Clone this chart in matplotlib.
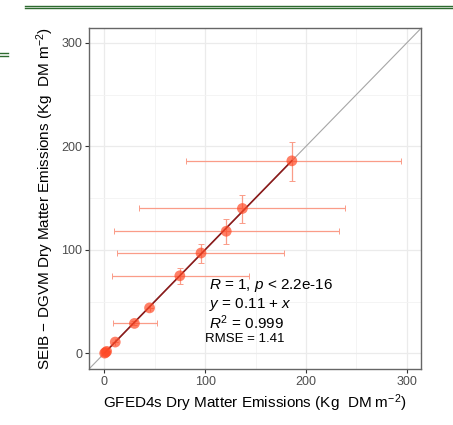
import numpy as np
import matplotlib
matplotlib.use('Agg')
import matplotlib.pyplot as plt
from matplotlib.lines import Line2D

plt.rcParams['font.family'] = ['Liberation Sans', 'DejaVu Sans']
plt.rcParams['mathtext.fontset'] = 'custom'
plt.rcParams['mathtext.rm'] = 'Liberation Sans'
plt.rcParams['mathtext.it'] = 'Liberation Sans:italic'

# GFED4s (x) vs SEIB-DGVM (y) dry matter emissions
gfed = np.array([0.5, 1.5, 2.5, 11, 30, 45, 75, 96, 121, 137, 186])
seib = np.array([0.3, 1.0, 2.0, 11, 29, 44, 75, 97, 118, 140, 186])
x_lo = np.array([0.5, 1.5, 2.5, 11, 9, 45, 8, 13, 10, 35, 81])
x_hi = np.array([0.5, 1.5, 2.5, 11, 52, 45, 144, 178, 233, 239, 294])
y_lo = np.array([0.3, 1.0, 2.0, 11, 27, 44, 67.5, 87, 106, 125.5, 166.5])
y_hi = np.array([0.3, 1.0, 2.0, 11, 31, 44, 83, 106, 130, 153.5, 204])

fit_intercept = 0.11
fit_slope = 1.0
stats_lines = [r'$\it{R}$ = 1, $\it{p}$ < 2.2e-16',
               r'$\it{y}$ = 0.11 + $\it{x}$',
               r'$\it{R}^2$ = 0.999']
rmse_label = 'RMSE = 1.41'

fig = plt.figure(figsize=(4.53, 4.25), dpi=100)
ax = fig.add_axes([0.1965, 0.1318, 0.9294 - 0.1965, 0.9334 - 0.1318])

# decorative document rules
for yy in (1 - 6 / 425, 1 - 8 / 425):
    fig.add_artist(Line2D([25 / 453, 1], [yy, yy], color='#2E6B30', lw=1.0))
for yy in (1 - 53 / 425, 1 - 56 / 425):
    fig.add_artist(Line2D([0, 8 / 453], [yy, yy], color='#2E6B30', lw=1.0))

lims = (-15, 314)
ax.set_xlim(lims)
ax.set_ylim(lims)
ax.set_facecolor('white')

ticks = [0, 100, 200, 300]
ax.set_xticks(ticks)
ax.set_yticks(ticks)
ax.set_xticks([50, 150, 250], minor=True)
ax.set_yticks([50, 150, 250], minor=True)
ax.tick_params(which='minor', length=0)
ax.tick_params(which='major', length=3, width=0.8, color='#333333',
               labelcolor='#4D4D4D', labelsize=9, pad=2)
ax.grid(True, which='major', color='#EBEBEB', lw=0.9)
ax.grid(True, which='minor', color='#F3F3F3', lw=0.6)
ax.set_axisbelow(True)
for s in ax.spines.values():
    s.set_color('#666666')
    s.set_linewidth(1.0)

# 1:1 line
ax.plot(lims, lims, color='#A6A6A6', lw=0.8, zorder=1)

# error bars
ax.errorbar(gfed, seib, xerr=[gfed - x_lo, x_hi - gfed], yerr=[seib - y_lo, y_hi - seib],
            fmt='none', ecolor='#FA9C88', elinewidth=0.9, capsize=2, capthick=0.7, zorder=2)

# fitted line
xf = np.array([gfed.min(), gfed.max()])
ax.plot(xf, fit_intercept + fit_slope * xf, color='#8B1A1A', lw=1.2, zorder=3)

ax.scatter(gfed, seib, s=60, color='#FF4A26', alpha=0.7, edgecolor='none', zorder=4)

ys = [66, 47.5, 30]
for t, yv in zip(stats_lines, ys):
    ax.text(104, yv, t, fontsize=11, ha='left', va='center', color='black')
ax.text(100, 13.5, rmse_label, fontsize=9.5, ha='left', va='center', color='black')

ax.set_xlabel(r'GFED4s Dry Matter Emissions (Kg  DM m$^{-2}$)', fontsize=11, labelpad=3)
ax.set_ylabel(r'SEIB $-$ DGVM Dry Matter Emissions (Kg  DM m$^{-2}$)', fontsize=11, labelpad=4)

fig.savefig('out.png', dpi=100)
